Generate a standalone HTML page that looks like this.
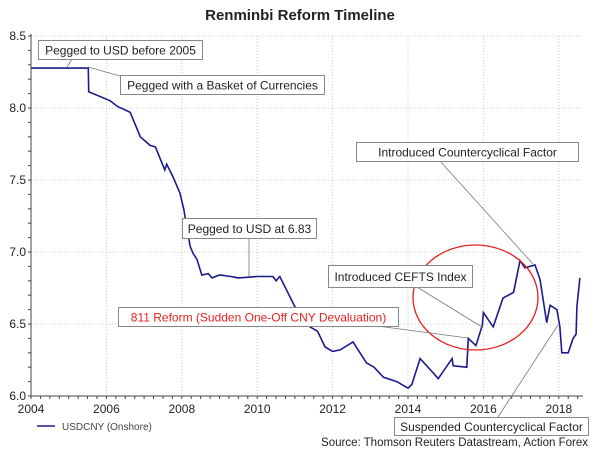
<!DOCTYPE html>
<html><head><meta charset="utf-8"><style>
body{margin:0;background:#fff;}
svg{display:block;font-family:"Liberation Sans",sans-serif;}
</style></head><body>
<svg id="chart" width="600" height="450" viewBox="0 0 600 450">
<text x="300" y="20" text-anchor="middle" font-size="15" font-weight="bold" fill="#222">Renminbi Reform Timeline</text>
<g id="grid"></g><g id="axes"></g>
<path id="line" fill="none" stroke="#1a1a8c" stroke-width="1.6"/>
<g id="ann"></g>
<line x1="37" y1="426" x2="55" y2="426" stroke="#1a1a8c" stroke-width="1.6"/>
<text x="62" y="430" font-size="10" fill="#444">USDCNY (Onshore)</text>
<text x="588" y="446" text-anchor="end" font-size="11.5" fill="#222">Source: Thomson Reuters Datastream, Action Forex</text>
</svg>
<script>
const years=[2004,2005.52,2005.53,2006.1,2006.3,2006.63,2006.9,2007.16,2007.3,2007.55,2007.6,2007.77,2007.95,2008.05,2008.22,2008.3,2008.4,2008.53,2008.7,2008.8,2009,2009.3,2009.5,2010,2010.42,2010.5,2010.6,2011.0,2011.4,2011.6,2011.8,2012.0,2012.2,2012.54,2012.9,2013.1,2013.35,2013.7,2014.0,2014.1,2014.32,2014.67,2014.8,2015.17,2015.2,2015.56,2015.6,2015.8,2015.97,2016.0,2016.26,2016.52,2016.8,2016.97,2017.1,2017.37,2017.5,2017.68,2017.77,2017.95,2018.03,2018.08,2018.25,2018.38,2018.46,2018.48,2018.56];
const values=[8.277,8.277,8.113,8.05,8.01,7.97,7.80,7.74,7.73,7.57,7.61,7.52,7.41,7.30,7.04,6.99,6.95,6.84,6.85,6.82,6.84,6.83,6.82,6.83,6.83,6.80,6.83,6.62,6.48,6.45,6.34,6.31,6.32,6.375,6.23,6.20,6.13,6.10,6.055,6.08,6.26,6.16,6.12,6.26,6.21,6.20,6.40,6.35,6.49,6.58,6.48,6.68,6.72,6.94,6.89,6.91,6.81,6.51,6.63,6.60,6.48,6.30,6.30,6.40,6.43,6.62,6.82];
const xTicks=[2004,2006,2008,2010,2012,2014,2016,2018];
const yTicks=[6.0,6.5,7.0,7.5,8.0,8.5];
const L=31,R=583,T=36,B=396;
const xs=y=>L+(y-2004)*37.7;
const ys=v=>B-(v-6)*144;
const NS="http://www.w3.org/2000/svg";
function mk(tag,attrs,parent,text){const e=document.createElementNS(NS,tag);for(const k in attrs)e.setAttribute(k,attrs[k]);if(text!==undefined)e.textContent=text;parent.appendChild(e);return e;}
const grid=document.getElementById('grid'),axes=document.getElementById('axes');
yTicks.forEach(t=>{
 const g=mk('line',{x1:L,x2:R,y1:ys(t),y2:ys(t),stroke:'#c8c8c8','stroke-dasharray':'1,2'},grid);
 
 
 const tx=mk('text',{x:L-5,y:ys(t)+4,'text-anchor':'end','font-size':'12',fill:'#222'},axes,t.toFixed(1));
 
 
});
for(let v=6;v<=8.5001;v+=0.1){mk('line',{x1:L-3,x2:L,y1:ys(v),y2:ys(v),stroke:'#444'},axes);}
xTicks.forEach(t=>{
 const g=mk('line',{x1:xs(t),x2:xs(t),y1:T,y2:B,stroke:'#c8c8c8','stroke-dasharray':'1,2'},grid);
 
 
 const tx=mk('text',{x:xs(t),y:B+17,'text-anchor':'middle','font-size':'12',fill:'#222'},axes,String(t));
 
 
});
for(let y=2004;y<=2018.6;y+=0.25){mk('line',{x1:xs(y),x2:xs(y),y1:B,y2:B+3,stroke:'#444'},axes);}
const ya=mk('line',{x1:L,x2:L,y1:T-2,y2:B,stroke:'#444'},axes);


const xa=mk('line',{x1:L,x2:R,y1:B,y2:B,stroke:'#444'},axes);


document.getElementById('line').setAttribute('d',years.map((y,i)=>(i?'L':'M')+xs(y).toFixed(1)+','+ys(values[i]).toFixed(1)).join(''));
const ann=document.getElementById('ann');
const el=mk('ellipse',{cx:475.5,cy:297.5,rx:62.5,ry:52.5,fill:'none',stroke:'#e82020','stroke-width':1.3},ann);


const notes=[
 ["Pegged to USD before 2005",38,40,164,19,[[72,59],[67,67]],'#222'],
 ["Pegged with a Basket of Currencies",120,75,204,19,[[88,67],[120,76]],'#222'],
 ["Pegged to USD at 6.83",182,218,134,20,[[249,238],[249,276]],'#222'],
 ["Introduced CEFTS Index",328,265,144,22,[[417,287],[482,327]],'#222'],
 ["811 Reform (Sudden One-Off CNY Devaluation)",118,307,280,19,[[347,322],[468,338]],'#e82020'],
 ["Introduced Countercyclical Factor",356,142,222,19,[[440,161],[533,264]],'#222'],
 ["Suspended Countercyclical Factor",394,417,194,18,[[498,417],[558,325]],'#222']
];
notes.forEach(n=>{
 const ln=mk('line',{x1:n[5][0][0],y1:n[5][0][1],x2:n[5][1][0],y2:n[5][1][1],stroke:'#777','stroke-width':0.8},ann);
 
 
 const r=mk('rect',{x:n[1]+0.5,y:n[2]+0.5,width:n[3],height:n[4],fill:'#fff',stroke:'#888'},ann);
 
 
 const t=mk('text',{x:n[1]+n[3]/2+0.5,y:n[2]+n[4]/2+4.8,'text-anchor':'middle','font-size':'12',fill:n[6]},ann,n[0]);
 
 
});
</script>
</body></html>
